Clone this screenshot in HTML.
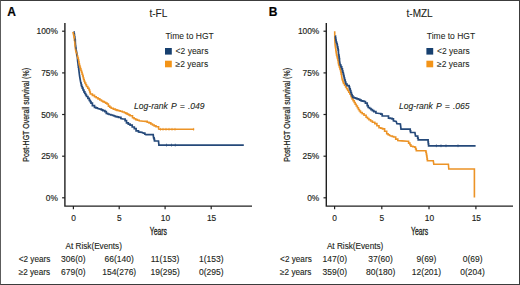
<!DOCTYPE html>
<html><head><meta charset="utf-8"><style>
html,body{margin:0;padding:0;background:#fff;}
body{width:520px;height:285px;overflow:hidden;position:relative;}
.frame{position:absolute;left:0;top:0;width:520px;height:285px;box-sizing:border-box;border:1px solid #3c3c3c;border-left-color:#5c5c5c;}
svg{position:absolute;left:0;top:0;}
text{font-family:"Liberation Sans", sans-serif;fill:#231f20;stroke:#231f20;stroke-width:0.22px;}
.tk{font-size:8.4px;stroke-width:0.15px;}
.ttl{font-size:10px;stroke-width:0.12px;}
.let{font-size:12px;font-weight:bold;fill:#000;}
.yl{font-size:9px;stroke-width:0.25px;}
.xl{font-size:10.4px;stroke-width:0.3px;}
.lg{font-size:8.5px;stroke-width:0.06px;}
.lr{font-size:8.6px;font-style:italic;word-spacing:0.8px;stroke-width:0.08px;}
.tb{font-size:8.2px;stroke-width:0.12px;}
.tn{font-size:8.5px;stroke-width:0.12px;}
</style></head><body>
<svg width="520" height="285" viewBox="0 0 520 285">
<path d="M64.9 23 V206.1 H252.0" fill="none" stroke="#202020" stroke-width="1.4"/>
<line x1="62.1" y1="31.2" x2="64.9" y2="31.2" stroke="#202020" stroke-width="1.2"/>
<text x="57.9" y="34.2" text-anchor="end" class="tk">100%</text>
<line x1="62.1" y1="72.9" x2="64.9" y2="72.9" stroke="#202020" stroke-width="1.2"/>
<text x="57.9" y="75.9" text-anchor="end" class="tk">75%</text>
<line x1="62.1" y1="114.5" x2="64.9" y2="114.5" stroke="#202020" stroke-width="1.2"/>
<text x="57.9" y="117.5" text-anchor="end" class="tk">50%</text>
<line x1="62.1" y1="156.2" x2="64.9" y2="156.2" stroke="#202020" stroke-width="1.2"/>
<text x="57.9" y="159.2" text-anchor="end" class="tk">25%</text>
<line x1="62.1" y1="197.8" x2="64.9" y2="197.8" stroke="#202020" stroke-width="1.2"/>
<text x="57.9" y="200.8" text-anchor="end" class="tk">0%</text>
<line x1="73.4" y1="206.1" x2="73.4" y2="209.2" stroke="#202020" stroke-width="1.2"/>
<text x="73.5" y="220.5" text-anchor="middle" class="tk">0</text>
<line x1="119.2" y1="206.1" x2="119.2" y2="209.2" stroke="#202020" stroke-width="1.2"/>
<text x="119.3" y="220.5" text-anchor="middle" class="tk">5</text>
<line x1="165.1" y1="206.1" x2="165.1" y2="209.2" stroke="#202020" stroke-width="1.2"/>
<text x="165.5" y="220.5" text-anchor="middle" class="tk">10</text>
<line x1="211.2" y1="206.1" x2="211.2" y2="209.2" stroke="#202020" stroke-width="1.2"/>
<text x="211.6" y="220.5" text-anchor="middle" class="tk">15</text>
<text x="158.4" y="16.8" text-anchor="middle" class="ttl">t-FL</text>
<text x="7.3" y="15.6" class="let">A</text>
<text transform="translate(28.5,114.9) rotate(-90) scale(0.78,1)" text-anchor="middle" class="yl">Post-HGT Overall survival (%)</text>
<text transform="translate(158.4,234.9) scale(0.66,1)" text-anchor="middle" class="xl">Years</text>
<text x="165.4" y="39" class="lg">Time to HGT</text>
<rect x="165.0" y="48" width="6.8" height="6.6" fill="#17406f"/>
<rect x="165.0" y="60.7" width="6.8" height="6.6" fill="#f39418"/>
<text x="175.6" y="54.4" class="lg">&lt;2 years</text>
<text x="175.6" y="67.1" class="lg">&#8805;2 years</text>
<text x="134.0" y="109.3" class="lr">Log-rank P = .049</text>
<text x="65.5" y="248.7" class="tb">At Risk(Events)</text>
<text x="18.7" y="261.7" class="tb">&lt;2 years</text>
<text x="18.7" y="275.2" class="tb">&#8805;2 years</text>
<text x="73.4" y="261.7" text-anchor="middle" class="tn">306(0)</text>
<text x="119.2" y="261.7" text-anchor="middle" class="tn">66(140)</text>
<text x="165.1" y="261.7" text-anchor="middle" class="tn">11(153)</text>
<text x="211.2" y="261.7" text-anchor="middle" class="tn">1(153)</text>
<text x="73.4" y="275.2" text-anchor="middle" class="tn">679(0)</text>
<text x="119.2" y="275.2" text-anchor="middle" class="tn">154(276)</text>
<text x="165.1" y="275.2" text-anchor="middle" class="tn">19(295)</text>
<text x="211.2" y="275.2" text-anchor="middle" class="tn">0(295)</text>
<path d="M326.3 23 V206.1 H513.0" fill="none" stroke="#202020" stroke-width="1.4"/>
<line x1="323.5" y1="31.2" x2="326.3" y2="31.2" stroke="#202020" stroke-width="1.2"/>
<text x="319.3" y="34.2" text-anchor="end" class="tk">100%</text>
<line x1="323.5" y1="72.9" x2="326.3" y2="72.9" stroke="#202020" stroke-width="1.2"/>
<text x="319.3" y="75.9" text-anchor="end" class="tk">75%</text>
<line x1="323.5" y1="114.5" x2="326.3" y2="114.5" stroke="#202020" stroke-width="1.2"/>
<text x="319.3" y="117.5" text-anchor="end" class="tk">50%</text>
<line x1="323.5" y1="156.2" x2="326.3" y2="156.2" stroke="#202020" stroke-width="1.2"/>
<text x="319.3" y="159.2" text-anchor="end" class="tk">25%</text>
<line x1="323.5" y1="197.8" x2="326.3" y2="197.8" stroke="#202020" stroke-width="1.2"/>
<text x="319.3" y="200.8" text-anchor="end" class="tk">0%</text>
<line x1="334.6" y1="206.1" x2="334.6" y2="209.2" stroke="#202020" stroke-width="1.2"/>
<text x="334.7" y="220.5" text-anchor="middle" class="tk">0</text>
<line x1="381.8" y1="206.1" x2="381.8" y2="209.2" stroke="#202020" stroke-width="1.2"/>
<text x="381.9" y="220.5" text-anchor="middle" class="tk">5</text>
<line x1="429.0" y1="206.1" x2="429.0" y2="209.2" stroke="#202020" stroke-width="1.2"/>
<text x="429.4" y="220.5" text-anchor="middle" class="tk">10</text>
<line x1="475.9" y1="206.1" x2="475.9" y2="209.2" stroke="#202020" stroke-width="1.2"/>
<text x="476.3" y="220.5" text-anchor="middle" class="tk">15</text>
<text x="419.6" y="16.8" text-anchor="middle" class="ttl">t-MZL</text>
<text x="268.7" y="15.6" class="let">B</text>
<text transform="translate(289.9,114.9) rotate(-90) scale(0.78,1)" text-anchor="middle" class="yl">Post-HGT Overall survival (%)</text>
<text transform="translate(419.6,234.9) scale(0.66,1)" text-anchor="middle" class="xl">Years</text>
<text x="426.8" y="39" class="lg">Time to HGT</text>
<rect x="426.4" y="48" width="6.8" height="6.6" fill="#17406f"/>
<rect x="426.4" y="60.7" width="6.8" height="6.6" fill="#f39418"/>
<text x="437.0" y="54.4" class="lg">&lt;2 years</text>
<text x="437.0" y="67.1" class="lg">&#8805;2 years</text>
<text x="399.0" y="109.3" class="lr">Log-rank P = .065</text>
<text x="326.9" y="248.7" class="tb">At Risk(Events)</text>
<text x="280.1" y="261.7" class="tb">&lt;2 years</text>
<text x="280.1" y="275.2" class="tb">&#8805;2 years</text>
<text x="334.8" y="261.7" text-anchor="middle" class="tn">147(0)</text>
<text x="380.6" y="261.7" text-anchor="middle" class="tn">37(60)</text>
<text x="426.5" y="261.7" text-anchor="middle" class="tn">9(69)</text>
<text x="472.6" y="261.7" text-anchor="middle" class="tn">0(69)</text>
<text x="334.8" y="275.2" text-anchor="middle" class="tn">359(0)</text>
<text x="380.6" y="275.2" text-anchor="middle" class="tn">80(180)</text>
<text x="426.5" y="275.2" text-anchor="middle" class="tn">12(201)</text>
<text x="472.6" y="275.2" text-anchor="middle" class="tn">0(204)</text>
<polyline points="73.6,31.9 73.9,31.9 73.9,33.5 74.3,33.5 74.3,35.0 74.5,35.0 74.5,36.8 74.8,36.8 74.8,38.5 75.0,38.5 75.0,40.2 75.3,40.2 75.3,42.0 75.6,46.0 76.2,50.0 76.8,53.0 77.3,57.0 77.6,60.0 78.2,65.5 78.4,65.5 78.4,67.2 78.7,67.2 78.7,68.8 78.9,68.8 78.9,70.5 79.6,76.0 80.2,79.5 80.8,83.0 81.2,83.0 81.2,84.8 81.6,84.8 81.6,86.5 82.3,86.5 82.3,88.2 83.0,88.2 83.0,90.0 83.9,90.0 83.9,91.8 84.8,91.8 84.8,93.5 85.7,93.5 85.7,95.0 86.5,95.0 86.5,96.5 87.9,96.5 87.9,98.4 89.3,98.4 89.3,100.3 90.2,100.3 90.2,101.7 91.0,101.7 91.0,103.1 92.4,103.1 92.4,105.6 94.5,105.6 94.5,107.3 95.9,107.3 95.9,107.8 97.3,107.8 97.3,108.4 100.1,109.1 101.4,109.1 101.4,109.8 102.8,109.8 102.8,110.6 104.9,110.6 104.9,111.7 106.3,111.7 106.3,113.4 107.7,113.4 107.7,114.0 109.1,114.0 109.1,114.5 110.8,114.5 110.8,115.0 112.6,115.0 112.6,115.5 114.0,115.5 114.0,116.0 115.4,116.0 115.4,116.6 117.0,116.6 117.0,116.9 118.5,116.9 118.5,117.3 120.9,117.3 120.9,118.6 123.0,119.0 125.1,119.0 125.1,120.7 126.5,120.7 126.5,122.8 128.3,122.8 128.3,124.2 130.1,124.2 130.1,125.2 132.2,125.2 132.2,127.0 134.3,127.0 134.3,128.7 136.1,128.7 136.1,130.8 138.5,130.8 138.5,131.9 142.0,132.4 143.4,133.1 144.8,133.1 144.8,134.1 146.0,134.6 153.2,134.6 153.6,137.8 154.1,137.8 154.1,139.4 154.5,139.4 154.5,141.0 158.5,141.0 158.9,145.1 243.8,145.1" fill="none" stroke="#25497a" stroke-width="1.7" stroke-linejoin="miter"/>
<polyline points="72.9,31.9 73.6,35.0 73.9,35.0 73.9,36.8 74.2,36.8 74.2,38.5 74.4,38.5 74.4,40.2 74.7,40.2 74.7,42.0 75.0,46.0 75.6,50.0 76.2,53.0 76.6,53.0 76.6,54.5 77.0,54.5 77.0,56.0 77.7,56.0 77.7,58.0 78.3,58.0 78.3,60.0 78.7,60.0 78.7,61.8 79.0,61.8 79.0,63.7 79.4,63.7 79.4,65.5 79.9,65.5 79.9,67.2 80.4,67.2 80.4,68.8 80.9,68.8 80.9,70.5 81.5,70.5 81.5,72.3 82.1,72.3 82.1,74.2 82.7,74.2 82.7,76.0 83.2,76.0 83.2,77.8 83.6,77.8 83.6,79.5 84.2,79.5 84.2,81.2 84.8,81.2 84.8,83.0 85.7,83.0 85.7,84.8 86.5,84.8 86.5,86.5 87.8,86.5 87.8,88.2 89.0,88.2 89.0,90.0 89.7,90.0 89.7,92.0 90.3,92.0 90.3,94.0 92.4,94.0 92.4,95.4 94.5,95.4 94.5,96.8 96.2,96.8 96.2,97.8 98.0,97.8 98.0,98.9 99.8,98.9 99.8,100.0 101.5,100.0 101.5,101.0 102.8,101.0 102.8,101.6 104.2,101.6 104.2,102.2 105.6,102.2 105.6,103.1 107.0,103.1 107.0,104.0 108.4,104.0 108.4,106.1 109.8,106.1 109.8,107.2 111.2,107.2 111.2,108.2 113.3,108.2 113.3,109.1 115.4,109.1 115.4,109.9 117.0,109.9 117.0,110.4 118.6,110.4 118.6,110.8 120.2,110.8 120.2,111.3 122.3,111.3 122.3,112.0 124.4,112.0 124.4,112.7 125.8,112.7 125.8,113.4 127.2,113.4 127.2,114.1 128.6,114.1 128.6,114.9 130.0,114.9 130.0,115.8 132.5,115.8 132.5,117.8 134.1,117.8 134.1,118.7 135.7,118.7 135.7,119.6 137.4,119.6 137.4,120.2 139.2,120.2 139.2,120.7 143.4,121.2 145.5,121.4 147.2,121.4 147.2,122.2 149.0,122.2 149.0,122.9 150.8,122.9 150.8,124.0 152.5,124.0 152.5,125.0 154.2,125.0 154.2,125.9 156.0,125.9 156.0,126.8 158.6,126.8 158.6,128.9 159.0,129.3 194.2,129.3" fill="none" stroke="#ec9326" stroke-width="1.6" stroke-linejoin="miter"/>
<line x1="166.5" y1="143.7" x2="166.5" y2="146.5" stroke="#25497a" stroke-width="0.7"/>
<line x1="171.5" y1="143.7" x2="171.5" y2="146.5" stroke="#25497a" stroke-width="0.7"/>
<line x1="175.3" y1="143.7" x2="175.3" y2="146.5" stroke="#25497a" stroke-width="0.7"/>
<line x1="74.8" y1="38.6" x2="74.8" y2="41.4" stroke="#25497a" stroke-width="0.7"/>
<line x1="75.8" y1="46.6" x2="75.8" y2="49.4" stroke="#25497a" stroke-width="0.7"/>
<line x1="76.6" y1="53.6" x2="76.6" y2="56.4" stroke="#25497a" stroke-width="0.7"/>
<line x1="77.4" y1="59.6" x2="77.4" y2="62.4" stroke="#25497a" stroke-width="0.7"/>
<line x1="160.5" y1="127.9" x2="160.5" y2="130.70000000000002" stroke="#ec9326" stroke-width="0.7"/>
<line x1="163" y1="127.9" x2="163" y2="130.70000000000002" stroke="#ec9326" stroke-width="0.7"/>
<line x1="166" y1="127.9" x2="166" y2="130.70000000000002" stroke="#ec9326" stroke-width="0.7"/>
<line x1="169" y1="127.9" x2="169" y2="130.70000000000002" stroke="#ec9326" stroke-width="0.7"/>
<line x1="172" y1="127.9" x2="172" y2="130.70000000000002" stroke="#ec9326" stroke-width="0.7"/>
<line x1="175" y1="127.9" x2="175" y2="130.70000000000002" stroke="#ec9326" stroke-width="0.7"/>
<line x1="193.6" y1="127.9" x2="193.6" y2="130.70000000000002" stroke="#ec9326" stroke-width="0.7"/>
<polyline points="334.7,31.3 334.8,40.0 335.1,45.0 335.3,45.0 335.3,46.7 335.6,46.7 335.6,48.3 335.8,48.3 335.8,50.0 336.0,50.0 336.0,51.7 336.3,51.7 336.3,53.3 336.5,53.3 336.5,55.0 337.0,55.0 337.0,56.8 337.4,56.8 337.4,58.5 337.9,58.5 337.9,60.3 338.2,60.3 338.2,61.9 338.4,61.9 338.4,63.4 338.7,63.4 338.7,65.0 339.3,65.0 339.3,66.9 339.9,66.9 339.9,68.9 340.5,68.9 340.5,70.8 340.9,70.8 340.9,72.5 341.2,72.5 341.2,74.3 341.6,74.3 341.6,76.0 342.3,80.0 342.9,80.0 342.9,81.8 343.5,81.8 343.5,83.5 344.6,83.5 344.6,85.2 345.6,85.2 345.6,87.0 346.6,87.0 346.6,88.8 347.7,88.8 347.7,90.5 348.8,90.5 348.8,92.2 349.8,92.2 349.8,94.0 350.9,94.0 350.9,96.0 351.5,96.0 351.5,97.5 352.1,97.5 352.1,99.0 353.1,99.0 353.1,100.8 354.2,100.8 354.2,102.5 355.2,102.5 355.2,104.2 356.3,104.2 356.3,106.0 357.4,106.0 357.4,107.8 358.4,107.8 358.4,109.5 359.4,109.5 359.4,111.0 360.5,111.0 360.5,112.5 362.2,112.5 362.2,113.8 364.0,113.8 364.0,115.2 366.1,115.2 366.1,117.3 367.5,117.3 367.5,118.5 368.9,118.5 368.9,119.8 370.6,119.8 370.6,121.0 372.4,121.0 372.4,122.2 374.8,122.2 374.8,123.6 376.9,123.6 376.9,125.7 379.0,125.7 379.0,127.8 380.8,127.8 380.8,128.3 382.5,128.3 382.5,128.9 384.6,128.9 384.6,131.3 386.7,131.3 386.7,133.8 388.1,133.8 388.1,134.7 389.5,134.7 389.5,135.5 390.8,136.0 392.2,136.0 392.2,136.5 393.6,136.5 393.6,137.0 395.7,137.0 395.7,139.1 397.8,139.1 397.8,140.5 402.0,140.9 407.4,141.3 408.6,141.3 408.6,143.1 409.9,143.1 409.9,144.8 410.9,144.8 410.9,146.3 412.9,146.3 412.9,146.8 414.8,146.8 414.8,147.3 415.6,147.3 415.6,149.0 416.3,149.0 416.3,150.7 425.6,150.7 425.9,150.7 425.9,152.3 426.3,152.3 426.3,154.0 426.6,154.0 426.6,155.6 426.9,155.6 426.9,157.3 427.1,157.3 427.1,159.1 427.4,159.1 427.4,160.8 433.3,160.8 433.8,164.3 448.4,164.3 448.8,169.0 474.4,169.0 474.4,197.6" fill="none" stroke="#ec9326" stroke-width="1.6" stroke-linejoin="miter"/>
<polyline points="335.2,36.0 335.5,36.0 335.5,38.0 335.8,38.0 335.8,40.0 336.1,40.0 336.1,42.0 336.6,42.0 336.6,43.5 337.1,43.5 337.1,45.0 337.4,45.0 337.4,46.8 337.8,46.8 337.8,48.5 338.1,48.5 338.1,50.2 338.4,50.2 338.4,52.0 338.7,55.0 339.0,55.0 339.0,56.8 339.2,56.8 339.2,58.5 339.5,58.5 339.5,60.3 340.2,65.0 340.9,65.0 340.9,66.9 341.7,66.9 341.7,68.9 342.4,68.9 342.4,70.8 342.8,70.8 342.8,72.5 343.3,72.5 343.3,74.3 343.7,74.3 343.7,76.0 344.1,76.0 344.1,78.0 344.6,78.0 344.6,80.0 345.2,80.0 345.2,82.0 345.8,82.0 345.8,84.0 347.0,84.0 347.0,85.6 349.1,85.6 349.1,87.0 349.6,87.0 349.6,88.8 350.2,88.8 350.2,90.5 350.8,90.5 350.8,92.5 351.4,92.5 351.4,94.5 352.1,94.5 352.1,95.9 352.8,95.9 352.8,97.3 354.2,97.3 354.2,97.8 355.6,97.8 355.6,98.3 357.0,98.3 357.0,98.8 358.4,98.8 358.4,99.4 359.8,99.4 359.8,100.1 361.2,100.1 361.2,100.8 362.6,100.8 362.6,101.2 364.0,101.2 364.0,101.5 365.4,101.5 365.4,103.2 367.2,103.2 367.2,105.7 368.2,105.7 368.2,107.5 369.6,107.5 369.6,108.5 371.0,108.5 371.0,109.6 372.4,109.6 372.4,110.7 373.8,110.7 373.8,111.7 375.9,111.7 375.9,113.1 379.4,113.5 380.8,113.5 380.8,114.2 382.2,114.2 382.2,116.0 387.1,116.0 388.5,116.0 388.5,118.1 390.2,118.1 390.2,118.4 392.0,118.4 392.0,118.8 393.4,118.8 393.4,120.9 396.2,121.4 396.9,123.7 400.4,124.0 401.0,129.2 409.8,129.2 410.2,129.2 410.2,130.8 410.6,130.8 410.6,132.5 414.9,132.5 415.5,136.0 417.2,136.2 417.7,136.2 417.7,138.1 418.2,138.1 418.2,139.9 427.8,139.9 428.1,139.9 428.1,141.9 428.3,141.9 428.3,143.8 428.6,143.8 428.6,145.8 475.6,145.8" fill="none" stroke="#25497a" stroke-width="1.7" stroke-linejoin="miter"/>
<line x1="436.4" y1="144.4" x2="436.4" y2="147.20000000000002" stroke="#25497a" stroke-width="0.7"/>
<line x1="441" y1="144.4" x2="441" y2="147.20000000000002" stroke="#25497a" stroke-width="0.7"/>
<line x1="446" y1="144.4" x2="446" y2="147.20000000000002" stroke="#25497a" stroke-width="0.7"/>
<line x1="458" y1="144.4" x2="458" y2="147.20000000000002" stroke="#25497a" stroke-width="0.7"/>

</svg>
<div class="frame"></div>
</body></html>
